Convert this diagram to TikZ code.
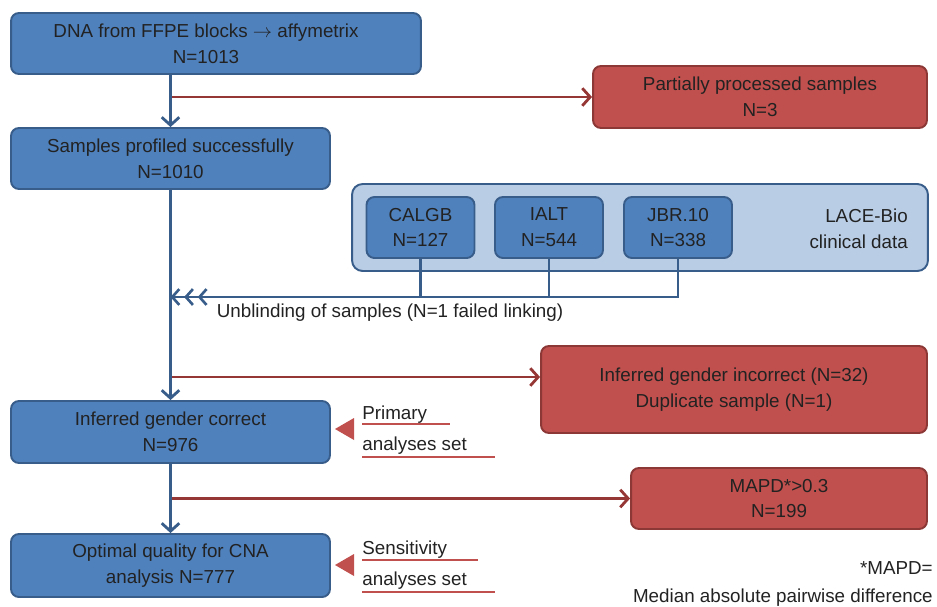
\documentclass[tikz,border=0pt]{standalone}
\usepackage{fontspec}
\setmainfont{Liberation Sans}
\usetikzlibrary{arrows.meta}

\definecolor{boxblue}{HTML}{4F81BD}
\definecolor{lineblue}{HTML}{385D8A}
\definecolor{boxred}{HTML}{C0504D}
\definecolor{edgered}{HTML}{8C3836}
\definecolor{linered}{HTML}{953735}
\definecolor{paleblue}{HTML}{B9CDE5}
\definecolor{inkgray}{HTML}{222222}

\begin{document}
\begin{tikzpicture}[
  x=0.02cm, y=-0.02cm,
  font=\fontsize{10.7}{14.7}\selectfont, text=inkgray,
  bluebox/.style = {draw=lineblue, fill=boxblue, line width=1.1pt, rounded corners=4.5pt,
                    align=center, minimum height=1.22cm, minimum width=6.38cm},
  redbox/.style  = {draw=edgered, fill=boxred, line width=1.1pt, rounded corners=4.5pt,
                    align=center, minimum height=1.22cm},
  studybox/.style = {bluebox, minimum width=2.16cm},
  group/.style   = {draw=lineblue, fill=paleblue, line width=1.1pt, rounded corners=6pt,
                    minimum width=11.52cm, minimum height=1.74cm},
  flow/.style    = {draw=lineblue, line width=1.5pt, -{Straight Barb[length=4.5pt,width=10pt,line width=1.6pt]}},
  drop/.style    = {draw=linered, line width=1.5pt, -{Straight Barb[length=4.5pt,width=10pt,line width=1.6pt]}},
  link/.style    = {draw=lineblue, line width=1.5pt},
  uline/.style   = {draw=boxred, line width=1pt},
  note/.style    = {inner sep=0pt, anchor=base west}
]
  \useasboundingbox (0,0) rectangle (937,606);

  % main flow
  \node[bluebox, minimum width=8.2cm] (dna)    at (216,43.5)  {DNA from FFPE blocks $\rightarrow$ affymetrix\hspace*{0.4cm}\\N=1013\hspace*{0.4cm}};
  \node[bluebox]                     (prof)   at (170.5,158.5) {Samples profiled successfully\\N=1010};
  \node[bluebox, minimum height=1.24cm] (gender) at (170.5,432) {Inferred gender correct\\N=976};
  \node[bluebox, minimum height=1.26cm] (opt)    at (170.5,565.5) {Optimal quality for CNA\\analysis N=777};

  % exclusions
  \node[redbox, minimum width=6.68cm, minimum height=1.24cm] (partial)   at (760,97)    {Partially processed samples\\N=3};
  \node[redbox, minimum width=7.72cm, minimum height=1.74cm] (incorrect) at (734,389.5) {Inferred gender incorrect (N=32)\\Duplicate sample (N=1)};
  \node[redbox, minimum width=5.92cm]                        (mapd)      at (779,498.5) {MAPD*>0.3\\N=199};

  % trials
  \node[group]    (lace)  at (640,227.5) {};
  \node[studybox] (calgb) at (420.5,227.5) {CALGB\\N=127};
  \node[studybox] (ialt)  at (549,227.5)   {IALT\\N=544};
  \node[studybox] (jbr)   at (678,227.5)   {JBR.10\\N=338};
  \node[anchor=east, align=right] (lacelbl) at (914,228.5) {LACE-Bio\\clinical data};

  \coordinate (unb) at (170.5,297);
  \coordinate (gap) at (170.5,377);

  \draw[drop] (partial.west -| prof.north) -- (partial.west);
  \draw[drop] (gap) -- (gap -| incorrect.west);
  \draw[drop] (mapd.west -| gender.south) -- (mapd.west);

  \draw[flow] (dna.south -| prof.north) -- (prof.north);
  \draw[flow] (prof.south) -- (gender.north);
  \draw[flow] (gender.south) -- (opt.north);

  \draw[link] (calgb.south) -- (calgb.south |- unb);
  \draw[link] (ialt.south) -- (ialt.south |- unb);
  \draw[link, -{Straight Barb[length=4pt,width=9pt,sep=2pt]Straight Barb[length=4pt,width=9pt,sep=2pt]Straight Barb[length=4pt,width=9pt]}]
    (jbr.south) |- (unb);
  \node (unblbl) at (390,313) {Unblinding of samples (N=1 failed linking)};

  % analysis sets
  \fill[boxred] (335,429) -- (354,418) -- (354,440) -- cycle;
  \fill[boxred] (335,565) -- (354,554) -- (354,576) -- cycle;
  \node[note] (prim)  at (362,419) {Primary};
  \node[note] (pset)  at (362,450) {analyses set};
  \node[note] (sens)  at (362,554) {Sensitivity};
  \node[note] (sset)  at (362,585) {analyses set};
  \draw[uline] (prim.base west) ++(0,5) -- ++(88,0);
  \draw[uline] (pset.base west) ++(0,7) -- ++(133,0);
  \draw[uline] (sens.base west) ++(0,6) -- ++(116,0);
  \draw[uline] (sset.base west) ++(0,7) -- ++(133,0);

  \node[anchor=base east, inner sep=0pt] (fn1) at (933,574) {*MAPD=};
  \node[anchor=base east, inner sep=0pt] (fn2) at (933,602) {Median absolute pairwise difference};
\end{tikzpicture}
\end{document}
